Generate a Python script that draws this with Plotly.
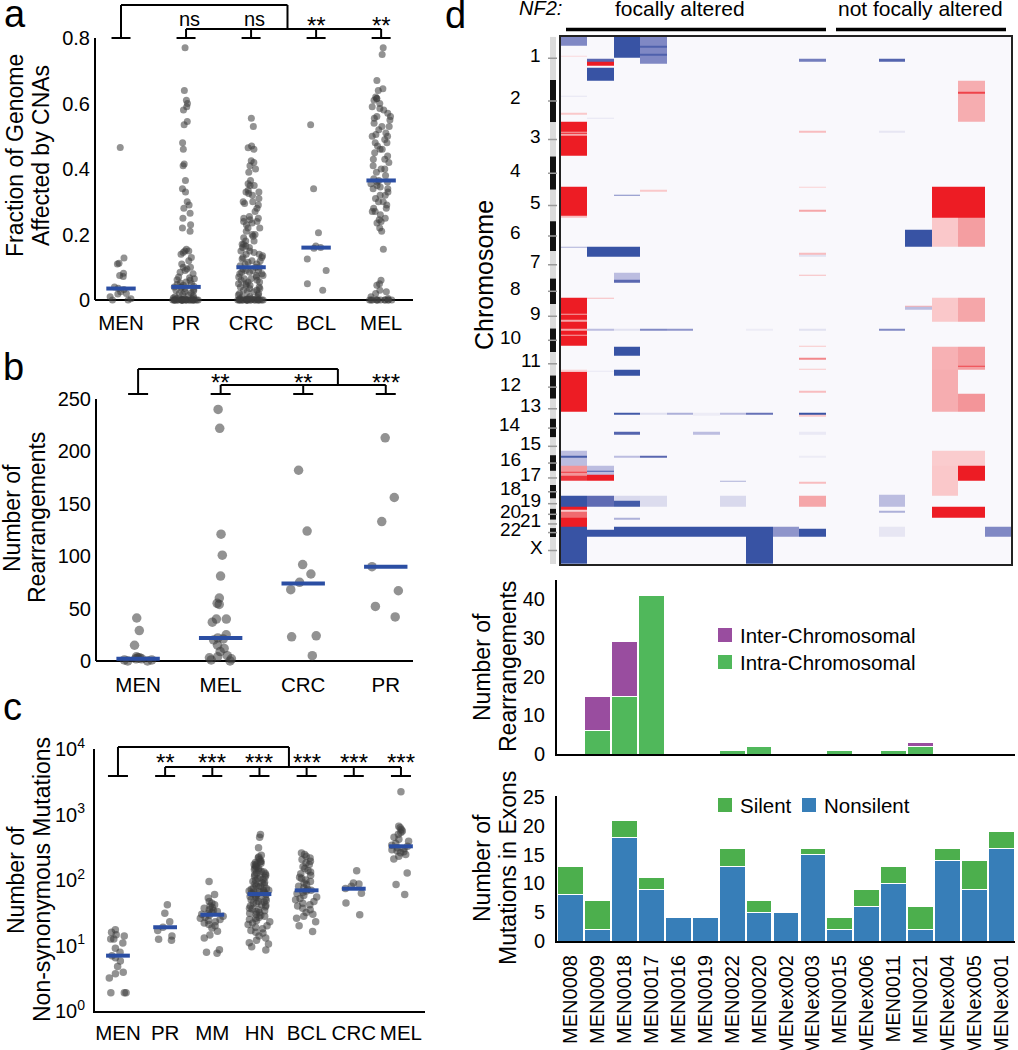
import numpy as np
import plotly.graph_objects as go

W, H = 1018, 1050
FONT = "Liberation Sans, Arial, Helvetica, sans-serif"

# ------------------------------------------------------------------ data
# panel a : fraction of genome affected by CNAs
A_GROUPS = ["MEN", "PR", "CRC", "BCL", "MEL"]
A_MEN = [0.466, 0.128, 0.112, 0.110, 0.082, 0.075, 0.072, 0.040, 0.036, 0.032,
         0.025, 0.020, 0.018, 0.010, 0.004, 0.0, 0.0]
A_PR = [0.77, 0.64, 0.61, 0.60, 0.59, 0.58, 0.545, 0.535, 0.48, 0.46, 0.415, 0.41,
        0.365, 0.34, 0.33, 0.30, 0.29, 0.28, 0.265, 0.25, 0.23, 0.22, 0.21, 0.155,
        0.15, 0.15, 0.145, 0.14, 0.13, 0.12, 0.11, 0.10, 0.10, 0.095, 0.09, 0.085,
        0.08, 0.07, 0.068, 0.065, 0.062, 0.06, 0.055, 0.052, 0.05, 0.048, 0.045,
        0.042, 0.04, 0.04, 0.038, 0.035, 0.032, 0.03, 0.028, 0.025, 0.022, 0.02,
        0.018, 0.015, 0.012, 0.01, 0.008, 0.006, 0.005, 0.004, 0.003, 0.002, 0.001,
        0, 0, 0, 0, 0, 0, 0, 0, 0, 0, 0, 0, 0, 0, 0, 0, 0, 0, 0, 0, 0, 0, 0, 0]
A_CRC = [0.555, 0.53, 0.47, 0.465, 0.46, 0.425, 0.42, 0.41, 0.40, 0.39, 0.365, 0.355,
         0.35, 0.35, 0.335, 0.33, 0.33, 0.325, 0.32, 0.31, 0.30, 0.30, 0.295, 0.29,
         0.28, 0.27, 0.255, 0.25, 0.25, 0.245, 0.24, 0.24, 0.235, 0.23, 0.22, 0.22,
         0.21, 0.20, 0.20, 0.195, 0.19, 0.18, 0.18, 0.17, 0.17, 0.165, 0.16, 0.16,
         0.15, 0.15, 0.145, 0.14, 0.14, 0.135, 0.13, 0.13, 0.125, 0.12, 0.12, 0.115,
         0.11, 0.11, 0.105, 0.10, 0.10, 0.095, 0.09, 0.09, 0.09, 0.085, 0.085, 0.08,
         0.08, 0.075, 0.075, 0.07, 0.07, 0.065, 0.065, 0.06, 0.06, 0.055, 0.055,
         0.05, 0.05, 0.045, 0.045, 0.04, 0.04, 0.035, 0.035, 0.03, 0.03, 0.025,
         0.025, 0.02, 0.02, 0.015, 0.015, 0.01, 0.01, 0.008, 0.005, 0.005, 0.004,
         0.003, 0.002, 0.001, 0, 0, 0, 0, 0, 0, 0, 0, 0, 0, 0, 0, 0, 0, 0, 0, 0, 0,
         0, 0]
A_BCL = [0.535, 0.34, 0.205, 0.165, 0.16, 0.158, 0.125, 0.09, 0.05, 0.03]
A_MEL = [0.77, 0.75, 0.67, 0.645, 0.64, 0.62, 0.615, 0.615, 0.61, 0.60, 0.59, 0.585,
         0.58, 0.57, 0.56, 0.56, 0.555, 0.55, 0.54, 0.53, 0.53, 0.52, 0.51, 0.505,
         0.50, 0.50, 0.49, 0.48, 0.48, 0.47, 0.46, 0.46, 0.45, 0.44, 0.43, 0.43,
         0.42, 0.41, 0.40, 0.40, 0.39, 0.38, 0.37, 0.365, 0.36, 0.36, 0.355, 0.35,
         0.345, 0.34, 0.34, 0.33, 0.32, 0.32, 0.31, 0.30, 0.30, 0.29, 0.28, 0.28,
         0.27, 0.27, 0.26, 0.25, 0.245, 0.24, 0.235, 0.22, 0.21, 0.155, 0.06, 0.05,
         0.045, 0.03, 0.025, 0.02, 0.01, 0.005, 0, 0, 0, 0, 0, 0, 0, 0, 0, 0, 0, 0]
A_MEDIANS = [0.035, 0.04, 0.10, 0.16, 0.365]
A_SIG = ["ns", "ns", "**", "**"]
A_YTICKS = [0, 0.2, 0.4, 0.6, 0.8]
A_YTICKTEXT = ["0", "0.2", "0.4", "0.6", "0.8"]

# panel b : number of rearrangements
B_GROUPS = ["MEN", "MEL", "CRC", "PR"]
B_MEN = [41, 29, 15, 4, 3, 3, 2, 2, 1, 1, 0, 0]
B_MEL = [240, 222, 121, 101, 81, 60, 55, 54, 40, 40, 37, 25, 22, 21, 20, 15, 12,
         9, 5, 4, 3, 2, 1, 0]
B_CRC = [182, 124, 92, 83, 75, 68, 24, 23, 5]
B_PR = [213, 156, 133, 90, 67, 52, 42]
B_MEDIANS = [2, 22, 74, 90]
B_SIG = ["**", "**", "***"]
B_YTICKS = [0, 50, 100, 150, 200, 250]

# panel c : number of non-synonymous mutations
C_GROUPS = ["MEN", "PR", "MM", "HN", "BCL", "CRC", "MEL"]
C_MEN = [17.4, 16, 14.6, 14, 12.6, 12.6, 10.9, 9.1, 7.9, 7, 6.5, 5.8, 4.8, 3.9, 3.7,
         3.2, 1.9, 1.9, 1.9]
C_PR = [42, 31, 23, 19, 17, 14, 12.5, 12]
C_MM = [95, 60, 53, 47, 44, 42, 40, 38, 37, 35, 34, 33, 32, 31, 30, 29, 28, 27, 26,
        25, 24, 23, 22, 21, 20, 18.5, 16.5, 14.5, 13, 8.6, 7.9, 7.6]
C_HN = [494, 450, 310, 239, 225, 217, 205, 193, 190, 185, 180, 175, 172, 165, 160,
        153, 150, 145, 140, 136, 132, 128, 125, 121, 118, 114, 110, 108, 105, 102,
        98, 95, 92, 90, 88, 85, 82, 80, 78, 75, 74, 72, 70, 70, 68, 67, 66, 65, 64,
        63, 61, 60, 58, 56, 55, 53, 52, 50, 49, 47, 46, 45, 44, 42, 41, 40, 39, 37,
        36, 35, 34, 33, 32, 31, 30, 29, 28, 27, 26, 25, 24, 23, 22, 21, 20, 19, 18,
        17, 16, 15.5, 14, 13, 12, 11, 10.5, 9.6, 8.5]
C_BCL = [259, 245, 230, 217, 205, 193, 182, 172, 160, 150, 140, 132, 125, 118, 110,
         105, 100, 95, 90, 85, 80, 76, 72, 70, 68, 65, 62, 58, 55, 52, 50, 47, 44,
         42, 40, 37, 35, 32, 30, 28, 26, 23, 20, 16.4]
C_CRC = [139, 90, 87, 80, 74, 63, 44.5, 29.5]
C_MEL = [2224, 663, 630, 590, 560, 530, 500, 450, 420, 390, 360, 340, 327, 310, 300,
         290, 280, 270, 260, 245, 230, 210, 128, 85, 60]
C_MEDIANS = [7, 19, 29.5, 61, 69.5, 73.6, 327]
C_SIG = ["**", "***", "***", "***", "***", "***"]
C_YTICKS = [1, 10, 100, 1000, 10000]
C_YTICKTEXT = ["10<sup>0</sup>", "10<sup>1</sup>", "10<sup>2</sup>",
               "10<sup>3</sup>", "10<sup>4</sup>"]

# panel d : meningioma samples
SAMPLES = ["MEN0008", "MEN0009", "MEN0018", "MEN0017", "MEN0016", "MEN0019",
           "MEN0022", "MEN0020", "MENex002", "MENex003", "MEN0015", "MENex006",
           "MEN0011", "MEN0021", "MENex004", "MENex005", "MENex001"]
CHROM_NAMES = ["1", "2", "3", "4", "5", "6", "7", "8", "9", "10", "11", "12", "13",
               "14", "15", "16", "17", "18", "19", "20", "21", "22", "X"]
CHROM_SIZES_MB = [249.25, 243.2, 198.0, 191.2, 180.9, 171.1, 159.1, 146.4, 141.2,
                  135.5, 135.0, 133.9, 115.2, 107.3, 102.5, 90.4, 81.2, 78.1, 59.1,
                  63.0, 48.1, 51.3, 155.3]

# copy-number segments (start Mb, end Mb along genome, log-ratio level -1..1)
CNA_MEN0008 = [(0, 53, -0.55), (107, 113, 0.2), (339, 345, -0.12), (438, 448, 0.3),
               (492, 686, 1.0), (548, 554, 0.45), (561, 568, 0.45), (862, 1029, 1.0),
               (1029, 1042, 0.35), (1209, 1214, -0.4), (1504, 1781, 1.0),
               (1596, 1603, 0.45), (1628, 1640, 0.45), (1682, 1690, 0.45),
               (1714, 1724, 0.45), (1915, 1923, 0.3), (1931, 2161, 1.0),
               (2381, 2471, -0.35), (2410, 2423, -0.85), (2471, 2557, 0.55),
               (2506, 2513, 0.9), (2529, 2557, 0.9), (2644, 2707, -1.0),
               (2707, 2822, 1.0), (2726, 2734, 0.3), (2734, 2772, 0.7),
               (2822, 3040, -1.0)]
CNA_MEN0009 = [(128, 143, -0.7), (143, 168, 1.0), (178, 255, -1.0), (465, 473, -0.12),
               (1209, 1266, -1.0), (1502, 1509, 0.35), (1682, 1690, -0.35),
               (1925, 1931, -0.1), (2471, 2557, -0.35), (2498, 2507, -0.85),
               (2523, 2557, 1.0), (2643, 2707, -0.68), (2841, 2879, -1.0)]
CNA_MEN0018 = [(0, 119, -1.0), (908, 914, -0.55), (1209, 1266, -1.0),
               (1360, 1402, -0.35), (1402, 1414, -0.7), (1682, 1690, -0.15),
               (1785, 1835, -1.0), (1919, 1950, -1.0), (2163, 2176, -0.9),
               (2272, 2291, -0.75), (2414, 2423, -0.35), (2643, 2672, -0.2),
               (2672, 2707, -0.9), (2772, 2782, -0.4), (2822, 2879, -1.0)]
CNA_MEN0017 = [(0, 153, -0.55), (54, 63, -0.8), (99, 109, -0.8), (883, 895, 0.3),
               (1682, 1691, -0.55), (2163, 2176, -0.15), (2410, 2423, -0.7),
               (2643, 2707, -0.18), (2822, 2879, -1.0)]
CNA_MEN0016 = [(1682, 1691, -0.5), (2163, 2176, -0.4), (2822, 2879, -1.0)]
CNA_MEN0019 = [(2163, 2180, -0.08), (2272, 2291, -0.35), (2822, 2879, -1.0)]
CNA_MEN0022 = [(2163, 2176, -0.35), (2557, 2563, -0.4), (2643, 2707, -0.2),
               (2822, 2879, -1.0)]
CNA_MEN0020 = [(1682, 1690, -0.08), (2163, 2176, -0.65), (2822, 3040, -1.0)]
CNA_MENex002 = [(2822, 2879, -0.5)]
CNA_MENex003 = [(128, 145, -0.6), (542, 552, 0.35), (862, 868, 0.25), (996, 1006, 0.45),
                (1245, 1253, 0.35), (1258, 1264, -0.15), (1368, 1376, 0.35),
                (1682, 1691, -0.15), (1777, 1785, 0.3), (1847, 1858, 0.6),
                (1912, 1919, 0.3), (2040, 2048, 0.35), (2163, 2178, -1.0),
                (2178, 2190, 0.3), (2272, 2291, -0.1), (2414, 2425, -0.08),
                (2563, 2571, 0.35), (2643, 2707, 0.45), (2835, 2879, -1.0)]
CNA_MEN0015 = []
CNA_MENex006 = []
CNA_MEN0011 = [(128, 145, -0.75), (542, 550, -0.12), (1682, 1691, -0.55),
               (2636, 2707, -0.35), (2730, 2740, -0.4), (2822, 2879, -0.12)]
CNA_MEN0021 = [(1111, 1209, -1.0), (1548, 1555, 0.4), (1555, 1571, -0.35)]
CNA_MENex004 = [(862, 1044, 1.0), (1044, 1209, 0.3), (1504, 1643, 0.3),
                (1785, 1915, 0.4), (1915, 2161, 0.42), (2381, 2471, 0.28),
                (2471, 2643, 0.3), (2707, 2772, 1.0)]
CNA_MENex005 = [(255, 492, 0.42), (316, 327, 0.85), (862, 1044, 1.0),
                (1044, 1209, 0.5), (1504, 1643, 0.45), (1785, 1915, 0.5),
                (1893, 1902, 0.85), (2053, 2161, 0.55), (2381, 2471, 0.28),
                (2471, 2557, 1.0), (2707, 2772, 1.0)]
CNA_MENex001 = [(2822, 2879, -0.55)]

REARR_INTRA = [0, 6, 15, 41, 0, 0, 1, 2, 0, 0, 1, 0, 1, 2, 0, 0, 0]
REARR_INTER = [0, 9, 14, 0, 0, 0, 0, 0, 0, 0, 0, 0, 0, 1, 0, 0, 0]
MUT_NONSILENT = [8, 2, 18, 9, 4, 4, 13, 5, 5, 15, 2, 6, 10, 2, 14, 9, 16]
MUT_SILENT = [5, 5, 3, 2, 0, 0, 3, 2, 0, 1, 2, 3, 3, 4, 2, 5, 3]

# ------------------------------------------------------------------ styles
DOT = "rgba(60,60,60,0.56)"
MED = "#2b4ea3"
GREEN_INTRA = "#50b85b"
PURPLE = "#994d9f"
GREEN_SIL = "#4caf4d"
BLUE_NS = "#377eb8"


def px(x):
    return x / W


def py(y):
    return 1 - y / H


# axis geometry (pixels)
AX = {
    "a": dict(x0=95, x1=413, r=(-0.40, 4.49), y0=304.6, y1=38),
    "b": dict(x0=96, x1=413, r=(-0.51, 3.33), y0=666.2, y1=399),
    "c": dict(x0=95, x1=425, r=(-0.487, 6.51), y0=1011, y1=749),
}


def cat_px(panel, i):
    g = AX[panel]
    return g["x0"] + (i - g["r"][0]) / (g["r"][1] - g["r"][0]) * (g["x1"] - g["x0"])


fig = go.Figure()


def add_points(values_list, xa, ya, size, width):
    for i, vals in enumerate(values_list):
        fig.add_trace(go.Box(
            x=[i] * len(vals), y=vals, orientation="v", xaxis=xa, yaxis=ya,
            boxpoints="all", jitter=1.0, pointpos=0, width=width,
            fillcolor="rgba(0,0,0,0)", line=dict(color="rgba(0,0,0,0)", width=0),
            marker=dict(color=DOT, size=size, line=dict(width=0)),
            showlegend=False, hoverinfo="y"))


def add_medians(meds, xa, ya, size):
    fig.add_trace(go.Scatter(
        x=list(range(len(meds))), y=meds, xaxis=xa, yaxis=ya, mode="markers",
        marker=dict(symbol="line-ew", size=size, line=dict(width=4, color=MED)),
        cliponaxis=False, showlegend=False, hoverinfo="y"))


add_points([A_MEN, A_PR, A_CRC, A_BCL, A_MEL], "x", "y", 7, 0.42)
add_medians(A_MEDIANS, "x", "y", 21)
add_points([B_MEN, B_MEL, B_CRC, B_PR], "x2", "y2", 9.5, 0.44)
add_medians(B_MEDIANS, "x2", "y2", 31)
add_points([C_MEN, C_PR, C_MM, C_HN, C_BCL, C_CRC, C_MEL], "x3", "y3", 7.5, 0.52)
add_medians(C_MEDIANS, "x3", "y3", 17)

# ---------------- heatmap
CNA = [CNA_MEN0008, CNA_MEN0009, CNA_MEN0018, CNA_MEN0017, CNA_MEN0016, CNA_MEN0019,
       CNA_MEN0022, CNA_MEN0020, CNA_MENex002, CNA_MENex003, CNA_MEN0015,
       CNA_MENex006, CNA_MEN0011, CNA_MEN0021, CNA_MENex004, CNA_MENex005,
       CNA_MENex001]
chrom_edges = np.concatenate([[0.0], np.cumsum(CHROM_SIZES_MB)])
GENOME = float(chrom_edges[-1])
bps = {0.0, GENOME}
for segs in CNA:
    for a, b, v in segs:
        bps.add(min(float(a), GENOME))
        bps.add(min(float(b), GENOME))
edges = np.array(sorted(bps))
mids = (edges[:-1] + edges[1:]) / 2
z = np.zeros((len(mids), len(SAMPLES)))
for j, segs in enumerate(CNA):
    for a, b, v in segs:
        z[(mids >= a) & (mids < b), j] = v

CSCALE = [[0.0, "#3853a4"], [0.15, "#5a67b0"], [0.225, "#8088c4"],
          [0.325, "#bcbde0"], [0.425, "#e2e2f1"], [0.5, "#f9f8fc"],
          [0.625, "#fbd3d5"], [0.675, "#f8bcbf"], [0.725, "#f5a6a9"],
          [0.775, "#f39599"], [0.85, "#f06a6f"], [1.0, "#ed1c24"]]
fig.add_trace(go.Heatmap(
    x=list(range(len(SAMPLES))), y=edges, z=z, zmin=-1, zmax=1, colorscale=CSCALE,
    showscale=False, xaxis="x4", yaxis="y4", hoverinfo="skip"))

# ---------------- bar charts
xs = list(range(len(SAMPLES)))
fig.add_trace(go.Bar(x=xs, y=REARR_INTRA, name="Intra-Chromosomal", marker=dict(
    color=GREEN_INTRA, line=dict(color="white", width=1)), xaxis="x5", yaxis="y5",
    showlegend=False))
fig.add_trace(go.Bar(x=xs, y=REARR_INTER, name="Inter-Chromosomal", marker=dict(
    color=PURPLE, line=dict(color="white", width=1)), xaxis="x5", yaxis="y5",
    showlegend=False))
fig.add_trace(go.Bar(x=xs, y=MUT_NONSILENT, name="Nonsilent", marker=dict(
    color=BLUE_NS, line=dict(color="white", width=1)), xaxis="x6", yaxis="y6",
    showlegend=False))
fig.add_trace(go.Bar(x=xs, y=MUT_SILENT, name="Silent", marker=dict(
    color=GREEN_SIL, line=dict(color="white", width=1)), xaxis="x6", yaxis="y6",
    showlegend=False))

# ------------------------------------------------------------------ layout
tickfont = dict(family=FONT, size=20, color="black")
base = dict(showgrid=False, ticks="", tickfont=tickfont, zeroline=False,
            automargin=False)


def xdom(p):
    return [px(AX[p]["x0"]), px(AX[p]["x1"])]


def ydom(p):
    return [py(AX[p]["y0"]), py(AX[p]["y1"])]


layout = dict(
    width=W, height=H, margin=dict(l=0, r=0, t=0, b=0, autoexpand=False),
    paper_bgcolor="white", plot_bgcolor="rgba(0,0,0,0)",
    font=dict(family=FONT, size=20, color="black"), showlegend=False,
    barmode="stack", bargap=0.04, boxmode="overlay", hovermode=False,
    xaxis=dict(base, domain=xdom("a"), range=list(AX["a"]["r"]), type="linear",
               tickvals=list(range(5)), ticktext=A_GROUPS, anchor="y",
               tickfont=dict(tickfont, size=20.5), showline=False, ticklabelstandoff=4),
    yaxis=dict(base, domain=ydom("a"), range=[-0.014, 0.8], anchor="x",
               tickvals=A_YTICKS, ticktext=A_YTICKTEXT, zeroline=True,
               zerolinecolor="black", zerolinewidth=2, ticklabelstandoff=4),
    xaxis2=dict(base, domain=xdom("b"), range=list(AX["b"]["r"]), type="linear",
                tickvals=list(range(4)), ticktext=B_GROUPS, anchor="y2",
                tickfont=dict(tickfont, size=20.5), ticklabelstandoff=4),
    yaxis2=dict(base, domain=ydom("b"), range=[-5, 250], anchor="x2",
                tickvals=B_YTICKS, zeroline=True, zerolinecolor="black",
                zerolinewidth=2, ticklabelstandoff=4),
    xaxis3=dict(base, domain=xdom("c"), range=list(AX["c"]["r"]), type="linear",
                tickvals=list(range(7)), ticktext=C_GROUPS, anchor="y3",
                tickfont=dict(tickfont, size=20.5), showline=True, linecolor="black",
                linewidth=2, ticklabelstandoff=2),
    yaxis3=dict(base, domain=ydom("c"), type="log", range=[0, 4], anchor="x3",
                tickvals=C_YTICKS, ticktext=C_YTICKTEXT, showline=True,
                linecolor="black", linewidth=2, ticklabelstandoff=4),
    xaxis4=dict(base, domain=[px(561), px(1011)], range=[-0.5, 16.5],
                showticklabels=False, showline=True, mirror=True, linecolor="#222",
                linewidth=2, anchor="y4"),
    yaxis4=dict(base, domain=[py(564), py(36.7)], range=[GENOME, 0],
                showticklabels=False, showline=True, mirror=True, linecolor="#222",
                linewidth=2, anchor="x4"),
    xaxis5=dict(base, domain=[px(557), px(1015)], range=[-0.5, 16.5],
                showticklabels=False, showline=True, linecolor="black", linewidth=2,
                anchor="y5"),
    yaxis5=dict(base, domain=[py(754), py(580)], range=[0, 45],
                tickvals=[0, 10, 20, 30, 40], showline=True, linecolor="black",
                linewidth=2, anchor="x5", ticklabelstandoff=6),
    xaxis6=dict(base, domain=[px(557), px(1015)], range=[-0.5, 16.5],
                tickvals=xs, ticktext=SAMPLES, tickangle=-90, showline=True,
                linecolor="black", linewidth=2, anchor="y6", ticklabelstandoff=4),
    yaxis6=dict(base, domain=[py(941), py(796)], range=[0, 25.2],
                tickvals=[0, 5, 10, 15, 20, 25], showline=True, linecolor="black",
                linewidth=2, anchor="x6", ticklabelstandoff=6),
)
fig.update_layout(**layout)

shapes = []
annotations = []


def line(x0, y0, x1, y1, w=2, color="black"):
    shapes.append(dict(type="line", xref="paper", yref="paper", x0=px(x0), y0=py(y0),
                       x1=px(x1), y1=py(y1), line=dict(color=color, width=w)))


def text(t, x, y, size, angle=0, xanchor="center", italic=False, yref="paper"):
    annotations.append(dict(
        text=t, x=px(x), y=py(y) if yref == "paper" else y,
        xref="paper", yref=yref, showarrow=False, xanchor=xanchor, yanchor="middle",
        textangle=angle, font=dict(family=FONT, size=size, color="black",
                                   style="italic" if italic else "normal")))


def legend_item(label, color, x, y):
    shapes.append(dict(type="rect", xref="paper", yref="paper", x0=px(x), x1=px(x + 14),
                       y0=py(y - 7), y1=py(y + 7), fillcolor=color, line=dict(width=0)))
    text(label, x + 20, y, 20.5, xanchor="left")


# y-axis lines for panels a and b (x lines come from zerolines)
shapes.append(dict(type="line", xref="paper", yref="y", x0=px(95), x1=px(95), y0=0,
                   y1=0.8, line=dict(color="black", width=2)))
shapes.append(dict(type="line", xref="paper", yref="y2", x0=px(96), x1=px(96), y0=0,
                   y1=250, line=dict(color="black", width=2)))


def brackets(panel, n, tbar_y, low_y, top_y, half_w, frac, sig, sig_y):
    xs_ = [cat_px(panel, i) for i in range(n)]
    for x in xs_:
        line(x - half_w, tbar_y, x + half_w, tbar_y)
    for x in xs_[1:]:
        line(x, tbar_y, x, low_y)
    line(xs_[1], low_y, xs_[-1], low_y)
    xj = xs_[1] + frac * (xs_[-1] - xs_[1])
    line(xs_[0], tbar_y, xs_[0], top_y)
    line(xs_[0], top_y, xj, top_y)
    line(xj, top_y, xj, low_y)
    for x, s in zip(xs_[1:], sig):
        if s == "ns":
            text(s, x + 3, sig_y[0], 20)
        else:
            text(s, x, sig_y[1], 24)


brackets("a", 5, 38, 29, 5, 9.5, 0.52, A_SIG, (19, 25))
brackets("b", 4, 394, 385, 369, 10, 0.71, B_SIG, (380, 382))
brackets("c", 7, 776, 767, 747, 10, 0.525, C_SIG, (760, 762))

# axis titles
text("Fraction of Genome", 15, 156, 23, -90)
text("Affected by CNAs", 41, 156, 23, -90)
text("Number of", 12, 518, 23, -90)
text("Rearrangements", 37, 518, 23, -90)
text("Number of", 16, 880, 23, -90)
text("Non-synonymous Mutations", 42, 880, 23, -90)
text("Chromosome", 484, 275, 25, -90)
text("Number of", 482, 667, 23, -90)
text("Rearrangements", 508, 667, 23, -90)
text("Number of", 482, 868, 23, -90)
text("Mutations in Exons", 508, 868, 23, -90)

# panel letters
text("a", 15, 14, 38)
text("b", 13, 367, 38)
text("c", 12, 707, 38)
text("d", 455, 15, 38)

# legends
legend_item("Inter-Chromosomal", PURPLE, 718, 635)
legend_item("Intra-Chromosomal", GREEN_INTRA, 718, 662)
legend_item("Silent", GREEN_SIL, 718, 805)
legend_item("Nonsilent", BLUE_NS, 802, 805)

# header of panel d
text("NF2:", 540, 8, 20, italic=True)
text("focally altered", 680, 8, 21)
text("not focally altered", 920, 8, 21)
line(566, 29.5, 826, 29.5, w=3.5)
line(836, 29.5, 1006, 29.5, w=3.5)

# chromosome ideogram and labels
for k, name in enumerate(CHROM_NAMES):
    a, b = chrom_edges[k], chrom_edges[k + 1]
    shapes.append(dict(type="rect", xref="paper", yref="y4", x0=px(550), x1=px(556),
                       y0=a, y1=b, line=dict(width=0),
                       fillcolor="#dcdcdc" if k % 2 == 0 else "#111111"))
    c = (a + b) / 2
    shapes.append(dict(type="line", xref="paper", yref="y4", x0=px(548), x1=px(557),
                       y0=c, y1=c, line=dict(color="#9a9a9a", width=1.5)))
    right = 543 if (k % 2 == 0) else 523
    if name == "X":
        right = 545
    text(name, right, c - 18, 19, xanchor="right", yref="y4")

fig.update_layout(shapes=shapes, annotations=annotations)
fig.write_html("out.html",
               config={"displayModeBar": False, "staticPlot": True},
               post_script="document.body.style.margin='0';"
                           "document.body.style.overflow='hidden';")
